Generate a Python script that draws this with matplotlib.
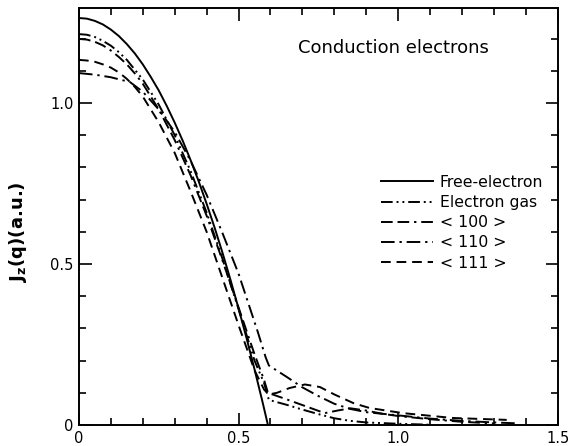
import numpy as np
import matplotlib
matplotlib.use("Agg")
import matplotlib.pyplot as plt
from matplotlib.ticker import MultipleLocator

# values (q in a.u., J in a.u.)
free_q = [0, 0.025, 0.05, 0.075, 0.1, 0.125, 0.15, 0.175, 0.2, 0.225, 0.25, 0.275, 0.3,
          0.325, 0.35, 0.375, 0.4, 0.425, 0.45, 0.475, 0.5, 0.525, 0.55, 0.575, 0.592]
free_J = [1.264, 1.262, 1.255, 1.244, 1.228, 1.208, 1.183, 1.154, 1.120, 1.081, 1.039, 0.991, 0.939,
          0.883, 0.822, 0.757, 0.687, 0.613, 0.534, 0.450, 0.362, 0.270, 0.173, 0.072, 0.0]

egas_q = [0, 0.025, 0.05, 0.075, 0.1, 0.125, 0.15, 0.2, 0.25, 0.3, 0.35, 0.4, 0.45, 0.5, 0.55, 0.58,
          0.595, 0.65, 0.7, 0.75, 0.8, 0.85, 0.9, 1.0, 1.1]
egas_J = [1.214, 1.212, 1.205, 1.193, 1.178, 1.158, 1.134, 1.073, 0.995, 0.900, 0.788, 0.660, 0.515,
          0.36, 0.20, 0.13, 0.078, 0.063, 0.048, 0.034, 0.021, 0.013, 0.008, 0.004, 0.001]

q100 = [0, 0.025, 0.05, 0.075, 0.1, 0.125, 0.15, 0.175, 0.2, 0.25, 0.3, 0.35, 0.4, 0.45, 0.5, 0.55,
        0.58, 0.592, 0.65, 0.7, 0.77, 0.81, 0.85, 0.9, 0.95, 1.0, 1.1, 1.2, 1.3]
J100 = [1.199, 1.197, 1.19, 1.179, 1.163, 1.143, 1.12, 1.092, 1.06, 0.98, 0.885, 0.775, 0.65, 0.51,
        0.365, 0.22, 0.14, 0.10, 0.08, 0.062, 0.037, 0.045, 0.052, 0.045, 0.035, 0.028, 0.018, 0.01, 0.005]

q110 = [0, 0.05, 0.1, 0.16, 0.2, 0.25, 0.3, 0.35, 0.4, 0.45, 0.5, 0.53, 0.56, 0.585, 0.595,
        0.65, 0.7, 0.75, 0.8, 0.85, 0.9, 1.0, 1.1, 1.2, 1.3, 1.38]
J110 = [1.093, 1.088, 1.080, 1.065, 1.035, 0.98, 0.91, 0.82, 0.715, 0.595, 0.47, 0.38, 0.29, 0.21, 0.185,
        0.15, 0.117, 0.09, 0.066, 0.05, 0.04, 0.03, 0.02, 0.013, 0.008, 0.005]

q111 = [0, 0.025, 0.05, 0.075, 0.1, 0.125, 0.15, 0.175, 0.2, 0.25, 0.3, 0.35, 0.4, 0.45, 0.5, 0.55,
        0.58, 0.595, 0.62, 0.66, 0.708, 0.755, 0.8, 0.86, 0.91, 1.015, 1.17, 1.34]
J111 = [1.134, 1.132, 1.128, 1.12, 1.11, 1.095, 1.075, 1.05, 1.02, 0.94, 0.845, 0.725, 0.6, 0.455,
        0.31, 0.17, 0.11, 0.095, 0.10, 0.115, 0.126, 0.118, 0.095, 0.068, 0.053, 0.037, 0.022, 0.016]

labels = ["Free-electron", "Electron gas", "< 100 >", "< 110 >", "< 111 >"]

fig = plt.figure(figsize=(5.68, 4.46), dpi=100)
ax = fig.add_axes([0.139, 0.047, 0.843, 0.935])

lw = 1.4
ax.plot(free_q, free_J, color="black", lw=lw, label=labels[0])
ax.plot(egas_q, egas_J, color="black", lw=lw, dashes=(6, 2, 1, 2, 1, 2), label=labels[1])
ax.plot(q100, J100, color="black", lw=lw, dashes=(6, 2.5, 6, 2.5, 1.2, 2.5), label=labels[2])
ax.plot(q110, J110, color="black", lw=lw, dashes=(7, 2.5, 1.2, 2.5), label=labels[3])
ax.plot(q111, J111, color="black", lw=lw, dashes=(5, 3), label=labels[4])

ax.set_xlim(0, 1.5)
ax.set_ylim(0, 1.295)
ax.set_xticks([0, 0.5, 1.0, 1.5])
ax.set_xticklabels(["0", "0.5", "1.0", "1.5"])
ax.set_yticks([0, 0.5, 1.0])
ax.set_yticklabels(["0", "0.5", "1.0"])
ax.xaxis.set_minor_locator(MultipleLocator(0.1))
ax.yaxis.set_minor_locator(MultipleLocator(0.1))
ax.tick_params(which="both", direction="in", top=True, right=True, labelsize=10.5, width=1.2)
ax.tick_params(which="major", length=9, pad=4)
ax.tick_params(which="minor", length=5)
for s in ax.spines.values():
    s.set_linewidth(1.4)

ax.set_ylabel("J$_\\mathbf{z}$(q)(a.u.)", fontsize=13, fontweight="bold")
ax.yaxis.set_label_coords(-0.105, 0.463)
ax.text(0.656, 0.905, "Conduction electrons", transform=ax.transAxes,
        ha="center", va="center", fontsize=13)

ax.legend(loc="upper left", bbox_to_anchor=(0.618, 0.615), frameon=False, fontsize=11.3,
          handlelength=3.3, handletextpad=0.45, labelspacing=0.33, borderaxespad=0)

fig.savefig("out.png", dpi=100)
